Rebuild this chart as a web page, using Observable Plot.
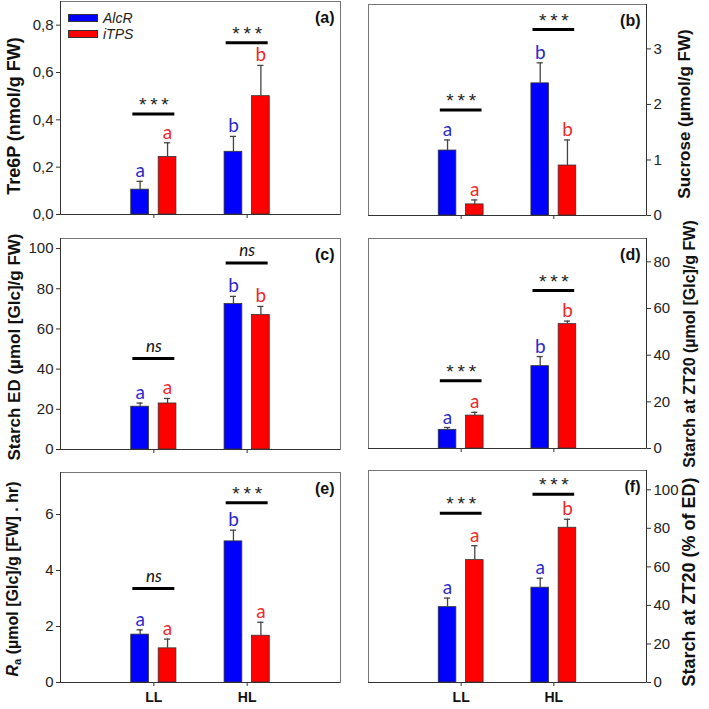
<!DOCTYPE html>
<html><head><meta charset="utf-8">
<script src="https://cdn.jsdelivr.net/npm/d3@7"></script>
<script src="https://cdn.jsdelivr.net/npm/@observablehq/plot@0.6"></script>
<style>
body{margin:0;background:#fff;}
#chart{position:relative;width:709px;height:709px;overflow:hidden;font-family:"Liberation Sans",Arial,sans-serif;background:#fff;}
#chart svg{position:absolute;overflow:visible;}
.ylab{position:absolute;white-space:nowrap;font-weight:bold;color:#111;transform:translate(-50%,-50%) rotate(-90deg);line-height:1;}
.ylab sub{font-size:70%;vertical-align:-0.25em;}
.leg{position:absolute;font-style:italic;font-size:14px;color:#222;line-height:1;}
.sw{position:absolute;width:28px;height:6px;border:1px solid #333;}
</style></head><body><div id="chart"></div>
<script>
// ---- categories ----
const conditions = ["LL", "HL"];
const genotypes = ["AlcR", "iTPS"];
// value order in every series: AlcR-LL, iTPS-LL, AlcR-HL, iTPS-HL

// (a) Tre6P (nmol/g FW)
const tre6pMean = [0.105, 0.243, 0.265, 0.50];
const tre6pSE = [0.035, 0.060, 0.065, 0.13];
const tre6pLetters = ["a", "a", "b", "b"];
const tre6pSig = ["***", "***"];
const tre6pSigY = [0.425, 0.726];
const tre6pTicks = [0, 0.2, 0.4, 0.6, 0.8];

// (b) Sucrose (µmol/g FW)
const sucroseMean = [1.17, 0.20, 2.38, 0.90];
const sucroseSE = [0.19, 0.08, 0.37, 0.46];
const sucroseLetters = ["a", "a", "b", "b"];
const sucroseSig = ["***", "***"];
const sucroseSigY = [1.90, 3.35];
const sucroseTicks = [0, 1, 2, 3];

// (c) Starch ED (µmol [Glc]/g FW)
const starchEDMean = [21.3, 22.9, 72.4, 66.9];
const starchEDSE = [1.8, 2.5, 3.8, 4.3];
const starchEDLetters = ["a", "a", "b", "b"];
const starchEDSig = ["ns", "ns"];
const starchEDSigY = [45.3, 92.8];
const starchEDTicks = [0, 20, 40, 60, 80, 100];

// (d) Starch at ZT20 (µmol [Glc]/g FW)
const starchZTMean = [8.0, 14.1, 35.3, 53.3];
const starchZTSE = [1.0, 1.4, 4.1, 1.3];
const starchZTLetters = ["a", "a", "b", "b"];
const starchZTSig = ["***", "***"];
const starchZTSigY = [29.0, 67.7];
const starchZTTicks = [0, 20, 40, 60, 80];

// (e) Ra (µmol [Glc]/g [FW] . hr)
const raMean = [1.71, 1.22, 5.04, 1.67];
const raSE = [0.17, 0.33, 0.40, 0.48];
const raLetters = ["a", "a", "b", "a"];
const raSig = ["ns", "***"];
const raSigY = [3.36, 6.42];
const raTicks = [0, 2, 4, 6];

// (f) Starch at ZT20 (% of ED)
const pctMean = [39.1, 63.5, 49.2, 80.3];
const pctSE = [4.7, 7.5, 4.9, 4.4];
const pctLetters = ["a", "a", "a", "b"];
const pctSig = ["***", "***"];
const pctSigY = [87.8, 97.7];
const pctTicks = [0, 20, 40, 60, 80, 100];

const barColors = ["#0000ff", "#ff0000"];
const letterColors = ["#2b2bcc", "#ee2a2a"];
const commaFmt = d => d3.format(".1f")(d).replace(".", ",");

const chart = document.getElementById("chart");

function panel(p) {
  const rows = p.mean.map((v, i) => {
    const gi = Math.floor(i / 2) + 1, g = i % 2;
    return {gi, g, v, top: v + p.se[i], letter: p.letters[i], xc: gi + (g === 0 ? -0.147 : 0.147)};
  });
  const sigRows = p.sig.map((s, k) => ({gi: k + 1, s, y: p.sigY[k]}));
  const right = p.side === "right";
  const mt = 8, mb = 30;
  const ml = right ? 10 : 60, mr = right ? 41 : 10;
  const fw = p.box[2] - p.box[0], fh = p.box[3] - p.box[1];
  const svg = Plot.plot({
    width: ml + fw + mr, height: mt + fh + mb,
    marginLeft: ml, marginRight: mr, marginTop: mt, marginBottom: mb,
    x: {domain: [0, 3], axis: null},
    y: {domain: [0, p.ymax], axis: null},
    color: {type: "identity"},
    style: {fontFamily: "'Liberation Sans', Arial, sans-serif", fontSize: "15px", color: "#222", background: "transparent", overflow: "visible"},
    marks: [
      Plot.frame({stroke: "#777"}),
      Plot.ruleY([0], {stroke: "#333"}),
      Plot.ruleX([right ? 3 : 0], {stroke: "#333"}),
      Plot.axisY({anchor: p.side, ticks: p.ticks, tickFormat: p.fmt || (d => String(d)), tickSize: 4, tickPadding: 3, fontSize: 15, stroke: "#333", fill: "#222", label: null}),
      Plot.axisX({anchor: "bottom", ticks: [1, 2], tickFormat: p.showX ? (d => conditions[d - 1]) : (() => ""), tickSize: 4, tickPadding: 6, fontSize: 14, fontWeight: "bold", stroke: "#333", fill: "#111", label: null}),
      Plot.rectY(rows, {x1: d => d.xc - 0.095, x2: d => d.xc + 0.095, y1: 0, y2: "v", fill: d => barColors[d.g], stroke: "#333", strokeWidth: 0.8}),
      Plot.ruleX(rows, {x: "xc", y1: "v", y2: "top", stroke: "#444", strokeWidth: 1.3}),
      Plot.ruleY(rows, {y: "top", x1: d => d.xc - 0.033, x2: d => d.xc + 0.033, stroke: "#444", strokeWidth: 1.3}),
      Plot.text(rows, {x: "xc", y: "top", text: "letter", fill: d => letterColors[d.g], fontSize: 19, fontFamily: "Lato", lineAnchor: "bottom", dy: -4}),
      Plot.ruleY(sigRows, {y: "y", x1: d => d.gi - 0.225, x2: d => d.gi + 0.225, stroke: "#000", strokeWidth: 3}),
      Plot.text(sigRows.filter(d => d.s === "***"), {x: "gi", y: "y", text: d => d.s.split("").join("\u2009"), fontSize: 19, fill: "#222", lineAnchor: "middle", dy: -9}),
      Plot.text(sigRows.filter(d => d.s !== "***"), {x: "gi", y: "y", text: "s", fontSize: 17, fontFamily: "Lato", fontStyle: "italic", fill: "#111", lineAnchor: "middle", dy: -12}),
      Plot.text([p.tag], {frameAnchor: "top-right", text: d => d, dx: -6, dy: 16.5, lineAnchor: "middle", textAnchor: "end", fontWeight: "bold", fontSize: 16, fill: "#111"})
    ]
  });
  svg.style.left = (p.box[0] - ml) + "px";
  svg.style.top = (p.box[1] - mt) + "px";
  chart.appendChild(svg);

  const lab = document.createElement("div");
  lab.className = "ylab";
  lab.innerHTML = p.label;
  lab.style.left = p.labPos[0] + "px";
  lab.style.top = p.labPos[1] + "px";
  lab.style.fontSize = p.labSize + "px";
  chart.appendChild(lab);
}

panel({tag: "(a)", mean: tre6pMean, se: tre6pSE, letters: tre6pLetters, sig: tre6pSig, sigY: tre6pSigY, ticks: tre6pTicks, fmt: commaFmt,
  ymax: 0.9, side: "left", box: [60, 1, 340, 214], showX: false, label: "Tre6P (nmol/g FW)", labPos: [14, 116], labSize: 18});
panel({tag: "(b)", mean: sucroseMean, se: sucroseSE, letters: sucroseLetters, sig: sucroseSig, sigY: sucroseSigY, ticks: sucroseTicks,
  ymax: 3.8, side: "right", box: [368, 4, 646, 215], showX: false, label: "Sucrose (µmol/g FW)", labPos: [684, 114], labSize: 17});
panel({tag: "(c)", mean: starchEDMean, se: starchEDSE, letters: starchEDLetters, sig: starchEDSig, sigY: starchEDSigY, ticks: starchEDTicks,
  ymax: 105, side: "left", box: [60, 238, 340, 449], showX: false, label: "Starch ED (µmol [Glc]/g FW)", labPos: [14, 347], labSize: 17});
panel({tag: "(d)", mean: starchZTMean, se: starchZTSE, letters: starchZTLetters, sig: starchZTSig, sigY: starchZTSigY, ticks: starchZTTicks,
  ymax: 90, side: "right", box: [368, 238, 646, 448], showX: false, label: "Starch at ZT20 (µmol [Glc]/g FW)", labPos: [690, 344], labSize: 16});
panel({tag: "(e)", mean: raMean, se: raSE, letters: raLetters, sig: raSig, sigY: raSigY, ticks: raTicks,
  ymax: 7.5, side: "left", box: [60, 472, 340, 682], showX: true, label: "<i>R</i><sub>a</sub> (µmol [Glc]/g [FW] . hr)", labPos: [14, 579], labSize: 16});
panel({tag: "(f)", mean: pctMean, se: pctSE, letters: pctLetters, sig: pctSig, sigY: pctSigY, ticks: pctTicks,
  ymax: 110, side: "right", box: [368, 470, 646, 682], showX: true, label: "Starch at ZT20 (% of ED)", labPos: [689, 582], labSize: 18});

// legend (panel a)
genotypes.forEach((g, i) => {
  const sw = document.createElement("div");
  sw.className = "sw";
  sw.style.left = "68px"; sw.style.top = (14 + i * 16) + "px";
  sw.style.background = barColors[i];
  chart.appendChild(sw);
  const t = document.createElement("div");
  t.className = "leg";
  t.textContent = g;
  t.style.left = "103px"; t.style.top = (11 + i * 16) + "px";
  chart.appendChild(t);
});
</script></body></html>
